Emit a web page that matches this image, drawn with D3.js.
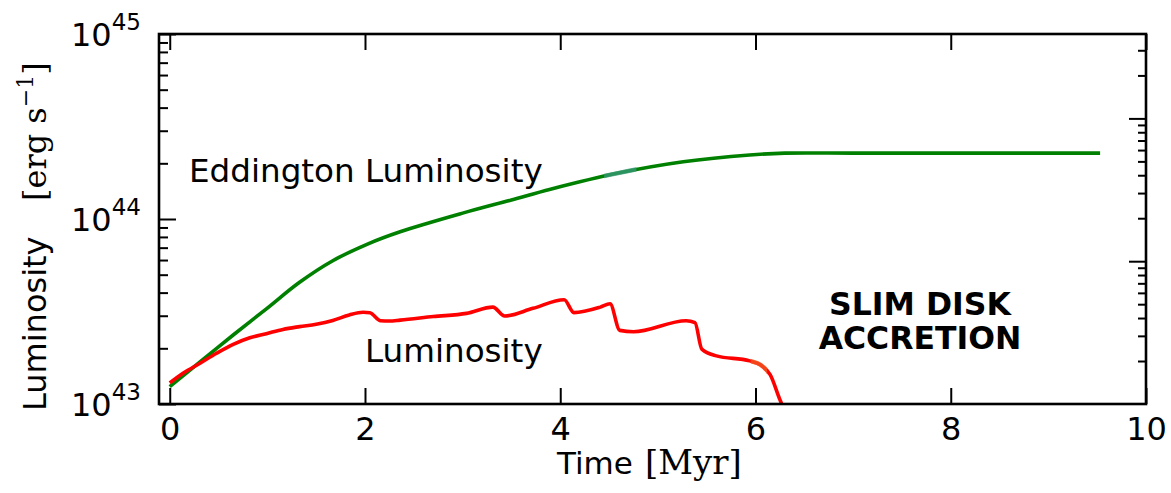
<!DOCTYPE html>
<html>
<head>
<meta charset="utf-8">
<script src="https://cdn.jsdelivr.net/npm/d3@7"></script>
<style>
  html, body { margin: 0; padding: 0; background: #fff; }
  svg { display: block; }
</style>
</head>
<body>
<svg id="chart" width="1171" height="493"></svg>
<script>
// ---- data ----
const timeTicks = [0, 2, 4, 6, 8, 10];           // Myr
const lumTicks = [1e43, 1e44, 1e45];             // erg/s
const rightMajorTicks = [10, 100];               // unlabelled twin axis
const timeDomain = [-0.11, 10];
const lumDomain = [1e43, 1e45];
const rightDomain = [1, 390];

// Eddington luminosity of the growing black hole
const eddTime = [0, 0.31, 0.65, 0.99, 1.33, 1.67, 2.02, 2.36, 3.0, 3.5, 3.9, 4.58, 5.26, 5.94, 6.3, 7.0, 8.0, 9.53];
const eddLum  = [1.24e43, 1.69e43, 2.36e43, 3.27e43, 4.55e43, 5.95e43, 7.3e43, 8.53e43, 1.076e44, 1.268e44,
                 1.449e44, 1.766e44, 2.04e44, 2.22e44, 2.27e44, 2.27e44, 2.27e44, 2.27e44];

// Accretion luminosity (slim disk)
const accTime = [0, 0.14, 0.31, 0.48, 0.65, 0.82, 0.99, 1.16, 1.33, 1.50, 1.67, 1.84, 1.98, 2.05, 2.16, 2.25,
                 2.36, 2.70, 3.04, 3.31, 3.43, 3.72, 4.04, 4.14, 4.41, 4.51, 4.61, 4.75, 5.29, 5.38, 5.45,
                 5.60, 5.94, 6.05, 6.15, 6.27, 6.32];
const accLum  = [1.30e43, 1.47e43, 1.66e43, 1.88e43, 2.10e43, 2.28e43, 2.40e43, 2.53e43, 2.62e43, 2.70e43,
                 2.83e43, 3.03e43, 3.13e43, 3.11e43, 2.82e43, 2.81e43, 2.84e43, 2.97e43, 3.09e43, 3.34e43,
                 2.99e43, 3.29e43, 3.66e43, 3.12e43, 3.34e43, 3.48e43, 2.50e43, 2.46e43, 2.82e43, 2.75e43,
                 1.98e43, 1.82e43, 1.71e43, 1.63e43, 1.44e43, 1.0e43, 0.91e43];

// ---- layout ----
const plot = { left: 159, right: 1146, top: 34, bottom: 404 };
const svg = d3.select("#chart");
const sans = "'DejaVu Sans', 'Bitstream Vera Sans', sans-serif";
const serif = "'DejaVu Serif', serif";

const x = d3.scaleLinear().domain(timeDomain).range([plot.left, plot.right]);
const y = d3.scaleLog().domain(lumDomain).range([plot.bottom, plot.top]);
const yR = d3.scaleLog().domain(rightDomain).range([plot.bottom, plot.top]);

const defs = svg.append("defs");
defs.append("clipPath").attr("id", "plot-clip")
  .append("rect")
  .attr("x", plot.left).attr("y", plot.top)
  .attr("width", plot.right - plot.left).attr("height", plot.bottom - plot.top);

// ---- curves ----
const eddData = eddTime.map((t, i) => [t, eddLum[i]]);
const accData = accTime.map((t, i) => [t, accLum[i]]);

const eddLine = d3.line().x(d => x(d[0])).y(d => y(d[1])).curve(d3.curveCatmullRom.alpha(0.5));
const accLine = d3.line().x(d => x(d[0])).y(d => y(d[1])).curve(d3.curveMonotoneX);

const curves = svg.append("g").attr("clip-path", "url(#plot-clip)");
curves.append("path").datum(eddData).attr("d", eddLine)
  .attr("fill", "none").attr("stroke", "#008000").attr("stroke-width", 3.6)
  .attr("stroke-linejoin", "round");
curves.append("path").datum(accData).attr("d", accLine)
  .attr("fill", "none").attr("stroke", "#ff0000").attr("stroke-width", 3.6)
  .attr("stroke-linejoin", "round");

// short tinted stretches along each curve
function tint(data, gen, t0, t1, color, id) {
  defs.append("clipPath").attr("id", id)
    .append("rect").attr("x", x(t0)).attr("y", plot.top)
    .attr("width", x(t1) - x(t0)).attr("height", plot.bottom - plot.top);
  svg.append("g").attr("clip-path", `url(#${id})`)
    .append("path").datum(data).attr("d", gen)
    .attr("fill", "none").attr("stroke", color).attr("stroke-width", 4.4)
    .attr("stroke-opacity", 0.75);
}
tint(eddData, eddLine, 4.45, 4.78, "#3a9a7c", "tint-edd");
tint(accData, accLine, 5.95, 6.12, "#f05a22", "tint-acc");

// ---- axes (ticks point inward) ----
function styleAxis(g) {
  g.select(".domain").remove();
  g.selectAll(".tick line").attr("stroke", "#000").attr("stroke-width", 2);
}

// bottom
svg.append("g").attr("transform", `translate(0,${plot.bottom})`)
  .call(d3.axisBottom(x).tickValues(timeTicks).tickSize(-16).tickSizeOuter(0).tickPadding(13))
  .call(styleAxis)
  .call(g => g.selectAll(".tick text").attr("font-family", sans).attr("font-size", 32).attr("fill", "#000"));

// top
svg.append("g").attr("transform", `translate(0,${plot.top})`)
  .call(d3.axisTop(x).tickValues(timeTicks).tickSize(-16).tickSizeOuter(0).tickFormat(""))
  .call(styleAxis);

// left: major + minor
const leftMinor = y.ticks().filter(v => !lumTicks.some(m => Math.abs(m - v) / m < 1e-9));
svg.append("g").attr("transform", `translate(${plot.left},0)`)
  .call(d3.axisLeft(y).tickValues(lumTicks).tickSize(-17).tickSizeOuter(0).tickFormat(""))
  .call(styleAxis);
svg.append("g").attr("transform", `translate(${plot.left},0)`)
  .call(d3.axisLeft(y).tickValues(leftMinor).tickSize(-9).tickSizeOuter(0).tickFormat(""))
  .call(styleAxis);

// right: twin log axis, no labels
const rightMinor = yR.ticks().filter(v => !rightMajorTicks.some(m => Math.abs(m - v) / m < 1e-9) && v > rightDomain[0]);
svg.append("g").attr("transform", `translate(${plot.right},0)`)
  .call(d3.axisRight(yR).tickValues(rightMajorTicks).tickSize(-17).tickSizeOuter(0).tickFormat(""))
  .call(styleAxis);
svg.append("g").attr("transform", `translate(${plot.right},0)`)
  .call(d3.axisRight(yR).tickValues(rightMinor).tickSize(-8).tickSizeOuter(0).tickFormat(""))
  .call(styleAxis);

// y tick labels as powers of ten
const yLabels = svg.append("g").attr("font-family", sans).attr("fill", "#000");
lumTicks.forEach(v => {
  const t = yLabels.append("text")
    .attr("x", 141).attr("y", y(v) + 11.5)
    .attr("text-anchor", "end").attr("font-size", 32);
  t.append("tspan").text("10");
  t.append("tspan").attr("dy", -16).attr("font-size", 23).text(String(Math.round(Math.log10(v))));
});

// frame
svg.append("rect")
  .attr("x", plot.left).attr("y", plot.top)
  .attr("width", plot.right - plot.left).attr("height", plot.bottom - plot.top)
  .attr("fill", "none").attr("stroke", "#000").attr("stroke-width", 2.6);

// ---- axis titles ----
const xt = svg.append("text").attr("x", 557).attr("y", 474).attr("font-size", 31).attr("fill", "#000");
xt.append("tspan").attr("font-family", sans).text("Time");
xt.append("tspan").attr("font-family", serif).attr("font-size", 34).attr("dx", 12).text("[Myr]");

svg.append("text").attr("transform", "translate(46,411) rotate(-90)")
  .attr("font-family", sans).attr("font-size", 32).attr("fill", "#000")
  .text("Luminosity");
const unit = svg.append("text").attr("transform", "translate(46,201) rotate(-90)")
  .attr("font-family", serif).attr("font-size", 32).attr("fill", "#000");
unit.append("tspan").text("[erg s");
unit.append("tspan").attr("font-size", 22).attr("dy", -13).text("\u22121");
unit.append("tspan").attr("dy", 13).text("]");

// ---- annotations ----
svg.append("text").attr("x", 189).attr("y", 182)
  .attr("font-family", sans).attr("font-size", 32.6).attr("fill", "#000")
  .text("Eddington Luminosity");
svg.append("text").attr("x", 365).attr("y", 362)
  .attr("font-family", sans).attr("font-size", 32.6).attr("fill", "#000")
  .text("Luminosity");
const slim = svg.append("text").attr("font-family", sans).attr("font-size", 31.5)
  .attr("font-weight", "bold").attr("fill", "#000").attr("text-anchor", "middle");
slim.append("tspan").attr("x", 920).attr("y", 315).text("SLIM DISK");
slim.append("tspan").attr("x", 920).attr("y", 349).text("ACCRETION");
</script>
</body>
</html>
